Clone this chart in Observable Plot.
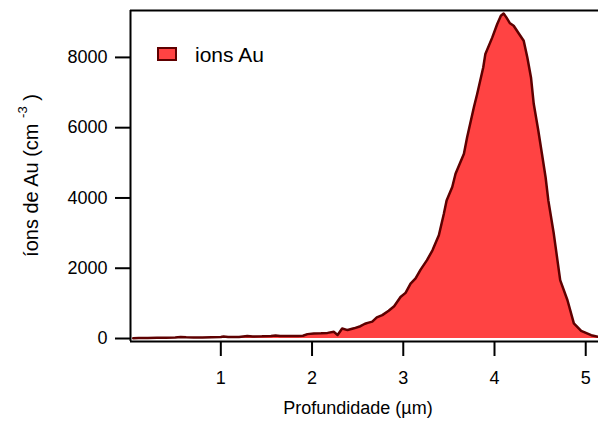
<!DOCTYPE html>
<html>
<head>
<meta charset="utf-8">
<script src="https://cdn.jsdelivr.net/npm/d3@7"></script>
<script src="https://cdn.jsdelivr.net/npm/@observablehq/plot@0.6"></script>
<style>
  html, body { margin: 0; padding: 0; background: white; }
  #chart svg text { font-size: 18px; font-family: 'Liberation Sans', Arial, Helvetica, sans-serif; }
  #chart svg text.ytitle { font-size: 20px; }
  #chart svg text.legend { font-size: 21px; }
  #chart svg tspan.sup { font-size: 13px; }
  #chart svg g[aria-label^="x-axis"] path,
  #chart svg g[aria-label^="x-axis"] line,
  #chart svg g[aria-label^="y-axis"] path,
  #chart svg g[aria-label^="y-axis"] line { stroke-width: 2px; }
</style>
</head>
<body>
<div id="chart"></div>
<script>
// Implantation profile of Au ions versus depth
const depth = [
  0.04, 0.10, 0.20, 0.30, 0.40, 0.50, 0.56, 0.62, 0.70, 0.80, 0.90, 1.00, 1.03, 1.08,
  1.15, 1.20, 1.29, 1.35, 1.45, 1.55, 1.60, 1.65, 1.75, 1.85, 1.90, 1.95, 2.02, 2.10,
  2.17, 2.24, 2.28, 2.33, 2.39, 2.46, 2.53, 2.58, 2.61, 2.66, 2.71, 2.77, 2.84, 2.90,
  2.97, 3.025, 3.08, 3.135, 3.19, 3.26, 3.32, 3.39, 3.445, 3.475, 3.537, 3.573, 3.665,
  3.70, 3.774, 3.81, 3.877, 3.90, 3.976, 4.03, 4.07, 4.10, 4.13, 4.17, 4.21, 4.27, 4.32,
  4.36, 4.40, 4.43, 4.48, 4.52, 4.56, 4.59, 4.65, 4.72, 4.80, 4.87, 4.95, 5.06, 5.14
];
const ions = [
  10, 12, 15, 20, 25, 30, 45, 35, 32, 30, 35, 42, 55, 40,
  42, 45, 70, 60, 62, 70, 85, 70, 72, 75, 80, 125, 145, 150,
  160, 190, 100, 285, 240, 290, 350, 420, 445, 480, 600, 665, 790, 920,
  1180, 1300, 1560, 1710, 1960, 2230, 2510, 2940, 3550, 3930, 4310, 4690, 5260,
  5730, 6580, 6960, 7720, 8100, 8570, 8950, 9185, 9250, 9140, 8970, 8900, 8665, 8475,
  8000, 7430, 6680, 5920, 5260, 4590, 3930, 2980, 1660, 1090, 430, 215, 95, 45
];
const xTicks = [1, 2, 3, 4, 5];
const yTicks = [0, 2000, 4000, 6000, 8000];
const xDomain = [0.01, 5.14];
const yDomain = [-85, 9335];
const xLabel = "Profundidade (µm)";
const seriesName = "ions Au";

const fillColor = "#ff4343";
const strokeColor = "#5e0000";

const data = depth.map((d, i) => ({depth: d, ions: ions[i]}));

const chart = Plot.plot({
  width: 598,
  height: 421,
  marginLeft: 130,
  marginRight: 0,
  marginTop: 10,
  marginBottom: 80,
  style: {color: "black", background: "white"},
  x: {domain: xDomain, ticks: xTicks, tickFormat: d3.format("d"), tickSize: 15, tickPadding: 15, label: null},
  y: {domain: yDomain, ticks: yTicks, tickFormat: d3.format("d"), tickSize: 15, tickPadding: 8, label: null},
  marks: [
    Plot.areaY(data, {x: "depth", y: "ions", fill: fillColor}),
    Plot.lineY(data, {x: "depth", y: "ions", stroke: strokeColor, strokeWidth: 2.5, strokeLinejoin: "round"}),
    Plot.ruleX([xDomain[0]], {stroke: "black", strokeWidth: 2}),
    Plot.ruleY([yDomain[0], yDomain[1]], {stroke: "black", strokeWidth: 2})
  ]
});

document.getElementById("chart").appendChild(chart);

const svg = d3.select(chart);
const [x0, x1] = chart.scale("x").range;
const [yb, yt] = chart.scale("y").range;

// x-axis title
svg.append("text")
  .attr("x", (x0 + x1) / 2 - 6)
  .attr("y", 414)
  .attr("text-anchor", "middle")
  .text(xLabel);

// y-axis title with superscript exponent
const yTitle = svg.append("text")
  .attr("class", "ytitle")
  .attr("transform", `translate(38,${(yb + yt) / 2}) rotate(-90)`)
  .attr("text-anchor", "middle");
yTitle.append("tspan").text("íons de Au (cm ");
yTitle.append("tspan").attr("class", "sup").attr("dy", -11).text("-3");
yTitle.append("tspan").attr("dy", 11).text(" )");

// legend
const lg = svg.append("g");
lg.append("rect")
  .attr("x", 158).attr("y", 48).attr("width", 18).attr("height", 12)
  .attr("fill", fillColor).attr("stroke", strokeColor).attr("stroke-width", 2);
lg.append("text")
  .attr("class", "legend")
  .attr("x", 195).attr("y", 62)
  .attr("text-anchor", "start")
  .text(seriesName);
</script>
</body>
</html>
